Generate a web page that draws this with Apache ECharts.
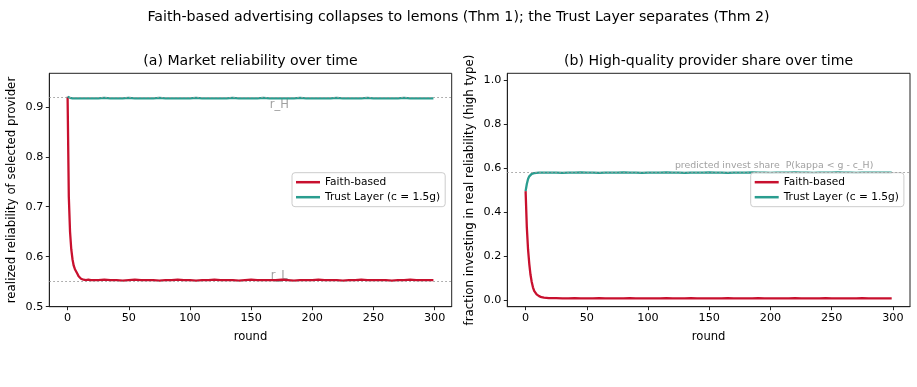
<!DOCTYPE html>
<html>
<head>
<meta charset="utf-8">
<script src="https://cdn.jsdelivr.net/npm/echarts@6/dist/echarts.min.js"></script>
<style>
html,body{margin:0;padding:0;background:#fff;}
#chart{width:917px;height:387px;}
</style>
</head>
<body>
<div id="chart"></div>
<script>
// ---------------- data ----------------
const rounds = [0,1,2,3,4,5,6,7,8,9,10,11,12,13,14,15,16,17,18,19,20,
  25,30,35,40,45,50,55,60,65,70,75,80,85,90,95,100,105,110,115,120,125,130,135,140,145,150,
  155,160,165,170,175,180,185,190,195,200,205,210,215,220,225,230,235,240,245,250,
  255,260,265,270,275,280,285,290,295,299];

// (a) realized reliability of selected provider
const reliabilityFaith = [0.920,0.720,0.650,0.615,0.595,0.582,0.575,0.573,0.566,0.561,0.558,0.556,0.555,0.554,0.554,0.553,0.553,0.554,0.553,0.553,0.553,
  0.553,0.554,0.553,0.553,0.552,0.553,0.554,0.553,0.553,0.553,0.552,0.553,0.553,0.554,0.553,0.553,0.552,0.553,0.553,0.554,
  0.553,0.553,0.553,0.552,0.553,0.554,0.553,0.553,0.553,0.553,0.554,0.553,0.552,0.553,0.553,0.553,0.554,0.553,0.553,0.553,
  0.552,0.553,0.553,0.554,0.553,0.553,0.553,0.553,0.552,0.553,0.553,0.554,0.553,0.553,0.553,0.553];
const reliabilityTrust = [0.920,0.919,0.918,0.917,0.917,0.916,0.917,0.917,0.917,0.917,0.917,0.917,0.917,0.917,0.917,0.917,0.917,0.917,0.917,0.917,0.917,
  0.917,0.918,0.917,0.917,0.917,0.918,0.917,0.917,0.917,0.917,0.918,0.917,0.917,0.917,0.917,0.917,0.918,0.917,0.917,0.917,
  0.917,0.917,0.918,0.917,0.917,0.917,0.917,0.918,0.917,0.917,0.917,0.917,0.917,0.918,0.917,0.917,0.917,0.917,0.917,0.918,
  0.917,0.917,0.917,0.917,0.918,0.917,0.917,0.917,0.917,0.917,0.918,0.917,0.917,0.917,0.917,0.917];

// (b) fraction investing in real reliability (high type)
const investFaith = [0.495,0.330,0.230,0.165,0.115,0.082,0.058,0.042,0.033,0.026,0.021,0.018,0.015,0.013,0.012,0.011,0.010,0.010,0.009,0.009,0.009,
  0.009,0.008,0.008,0.009,0.008,0.008,0.008,0.009,0.008,0.008,0.008,0.008,0.009,0.008,0.008,0.008,0.008,0.008,0.009,0.008,
  0.008,0.008,0.009,0.008,0.008,0.008,0.008,0.008,0.009,0.008,0.008,0.008,0.008,0.009,0.008,0.008,0.008,0.008,0.008,0.009,
  0.008,0.008,0.008,0.008,0.009,0.008,0.008,0.008,0.008,0.008,0.009,0.008,0.008,0.008,0.008,0.008];
const investTrust = [0.495,0.527,0.550,0.562,0.569,0.573,0.575,0.577,0.578,0.578,0.579,0.579,0.579,0.579,0.579,0.579,0.579,0.579,0.579,0.579,0.579,
  0.579,0.578,0.579,0.579,0.580,0.579,0.579,0.578,0.579,0.579,0.579,0.580,0.579,0.579,0.578,0.579,0.579,0.579,0.580,0.579,
  0.579,0.578,0.579,0.579,0.579,0.580,0.579,0.579,0.578,0.579,0.579,0.579,0.580,0.579,0.579,0.578,0.579,0.579,0.579,0.580,
  0.579,0.579,0.578,0.579,0.579,0.579,0.580,0.579,0.579,0.578,0.579,0.579,0.579,0.579,0.579,0.579];

const rH = 0.92, rL = 0.55, predictedShare = 0.583;
const xTicks = [0,50,100,150,200,250,300];
const yTicksA = [0.5,0.6,0.7,0.8,0.9];
const yTicksB = [0.0,0.2,0.4,0.6,0.8,1.0];
const seriesNames = ['Faith-based','Trust Layer (c = 1.5g)'];

// ---------------- chart ----------------
const RED = '#c8102e', TEAL = '#2a9d8f';
const FONT = 'DejaVu Sans';
const pair = (xs, ys) => xs.map((x, i) => [x, ys[i]]);

const chart = echarts.init(document.getElementById('chart'), null, {renderer: 'canvas'});

function xAxisFor(gi) {
  return {
    gridIndex: gi, type: 'value', min: -14.95, max: 313.95,
    name: 'round', nameLocation: 'middle', nameGap: 24,
    nameTextStyle: {fontFamily: FONT, fontSize: 11.6, color: '#000'},
    axisLine: {show: true, onZero: false, lineStyle: {color: '#222', width: 1}},
    axisTick: {show: true, length: 3.5, customValues: xTicks, lineStyle: {color: '#222'}},
    axisLabel: {customValues: xTicks, margin: 6, fontFamily: FONT, fontSize: 11.2, color: '#000'},
    splitLine: {show: false}
  };
}
function yAxisFor(gi, min, max, ticks, name, gap) {
  return {
    gridIndex: gi, type: 'value', min: min, max: max,
    name: name, nameLocation: 'middle', nameGap: gap,
    nameTextStyle: {fontFamily: FONT, fontSize: 11.8, color: '#000'},
    axisLine: {show: true, onZero: false, lineStyle: {color: '#222', width: 1}},
    axisTick: {show: true, length: 3.5, customValues: ticks, lineStyle: {color: '#222'}},
    axisLabel: {customValues: ticks, margin: 6, fontFamily: FONT, fontSize: 11.2, color: '#000',
      formatter: v => v.toFixed(1)},
    splitLine: {show: false}
  };
}
function lineSeries(name, gi, ys, color) {
  return {
    name: name, type: 'line', xAxisIndex: gi, yAxisIndex: gi,
    data: pair(rounds, ys), showSymbol: false, symbol: 'none',
    lineStyle: {color: color, width: 2.3}, itemStyle: {color: color},
    z: 3, animation: false
  };
}
function refLines(gi, vals) {
  return {
    type: 'line', xAxisIndex: gi, yAxisIndex: gi, data: [], silent: true, z: 1,
    markLine: {
      silent: true, symbol: 'none', animation: false,
      lineStyle: {color: '#999', type: [1.5, 2.5], width: 1.1},
      label: {show: false},
      data: vals.map(v => ({yAxis: v}))
    }
  };
}
function textMark(gi, x, y, text, opts) {
  return {
    type: 'scatter', xAxisIndex: gi, yAxisIndex: gi, silent: true, z: 2,
    symbolSize: 0, data: [[x, y]], animation: false,
    label: Object.assign({show: true, formatter: text, fontFamily: FONT, color: '#888'}, opts)
  };
}
function legendAt(left, top) {
  return {
    orient: 'vertical', left: left, top: top, data: seriesNames, selectedMode: false,
    icon: 'rect', itemWidth: 24, itemHeight: 2.5, itemGap: 4,
    padding: [4, 5, 4, 4],
    backgroundColor: 'rgba(255,255,255,0.8)', borderColor: '#ccc', borderWidth: 1, borderRadius: 3,
    textStyle: {fontFamily: FONT, fontSize: 10.6, color: '#000'}
  };
}

const option = {
  backgroundColor: '#fff',
  animation: false,
  title: {
    text: 'Faith-based advertising collapses to lemons (Thm 1); the Trust Layer separates (Thm 2)',
    left: 'center', top: 5,
    textStyle: {fontFamily: FONT, fontSize: 14.2, fontWeight: 'normal', color: '#000'}
  },
  graphic: [
    {type: 'text', x: 250.5, y: 61, style: {text: '(a) Market reliability over time', textAlign: 'center', textVerticalAlign: 'middle', font: '14.1px "DejaVu Sans"', fill: '#000'}},
    {type: 'text', x: 708.5, y: 61, style: {text: '(b) High-quality provider share over time', textAlign: 'center', textVerticalAlign: 'middle', font: '14.1px "DejaVu Sans"', fill: '#000'}}
  ],
  grid: [
    {left: 49.3, top: 73.3, width: 402.4, height: 233.4, show: true, borderColor: '#222', borderWidth: 1, backgroundColor: 'transparent', containLabel: false},
    {left: 507.3, top: 73.3, width: 402.7, height: 233.4, show: true, borderColor: '#222', borderWidth: 1, backgroundColor: 'transparent', containLabel: false}
  ],
  legend: [legendAt(292, 172.7), legendAt(750.7, 172.7)],
  xAxis: [xAxisFor(0), xAxisFor(1)],
  yAxis: [
    yAxisFor(0, 0.5, 0.967, yTicksA, 'realized reliability of selected provider', 31),
    yAxisFor(1, -0.03, 1.03, yTicksB, 'fraction investing in real reliability (high type)', 31)
  ],
  series: [
    refLines(0, [rH, rL]),
    refLines(1, [predictedShare]),
    textMark(0, 173, rH, 'r_H', {position: 'bottom', distance: 2, fontSize: 11.5}),
    textMark(0, 173, rL, 'r_L', {position: 'top', distance: 0, fontSize: 11.5}),
    textMark(1, 284, predictedShare, 'predicted invest share  P(kappa < g - c_H)', {position: [0, 0], align: 'right', verticalAlign: 'bottom', offset: [0, -2], fontSize: 9.4}),
    lineSeries(seriesNames[0], 0, reliabilityFaith, RED),
    lineSeries(seriesNames[1], 0, reliabilityTrust, TEAL),
    lineSeries(seriesNames[0], 1, investFaith, RED),
    lineSeries(seriesNames[1], 1, investTrust, TEAL)
  ]
};
chart.setOption(option);
</script>
</body>
</html>
